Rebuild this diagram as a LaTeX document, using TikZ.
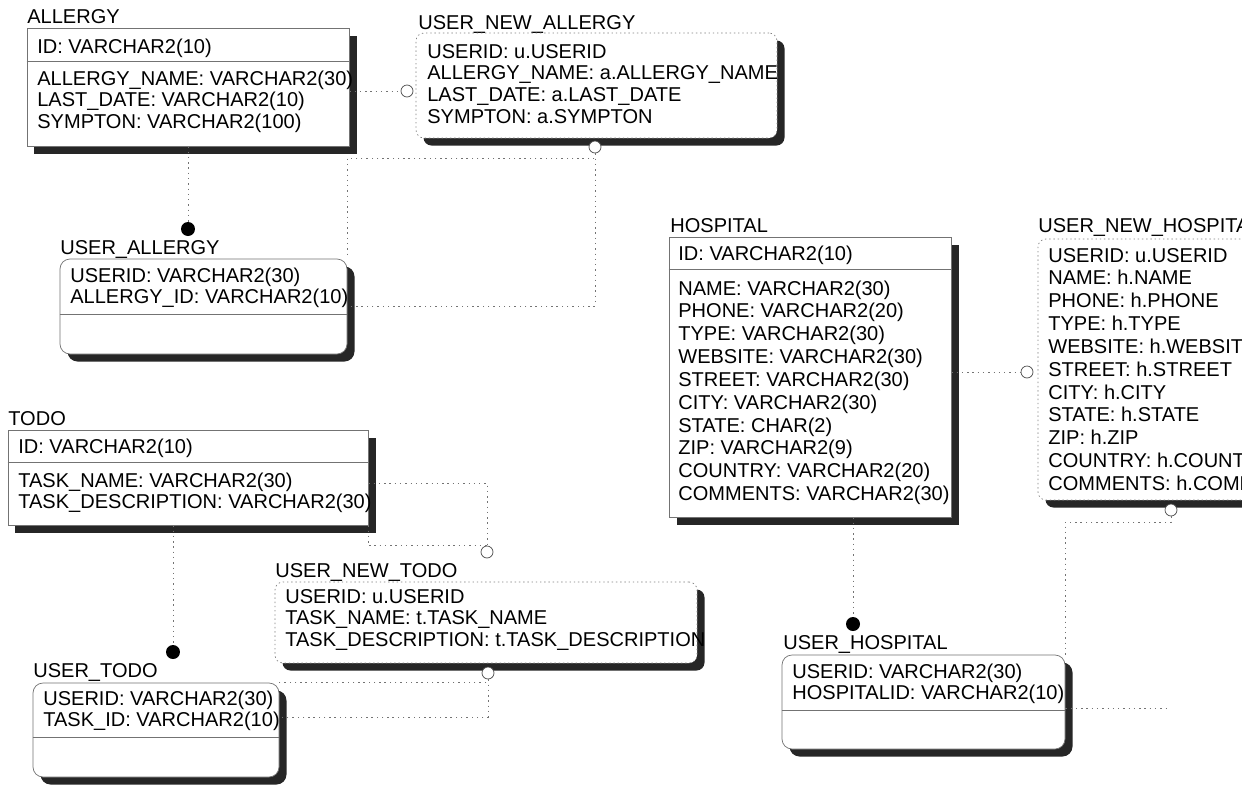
\documentclass[tikz,border=0pt]{standalone}
\usepackage{fontspec}
\setmainfont{Liberation Sans}
\usetikzlibrary{fit,shadows}

\begin{document}
\begin{tikzpicture}[
    x=0.02cm, y=-0.02cm,
    tbl/.style={rectangle, draw=black!55, line width=0.4pt, fill=white, inner sep=0pt,
                drop shadow={shadow xshift=0.15cm, shadow yshift=-0.15cm, fill=black!85, opacity=1}},
    dep/.style={tbl, rounded corners=0.2cm},
    vw/.style={tbl, rounded corners=0.16cm, draw=black!50, dash pattern=on 0.8pt off 1.6pt},
    ttl/.style={anchor=base west, inner sep=0pt, font=\fontsize{11.4}{12.5}\selectfont},
    fld/.style={anchor=base west, inner sep=0pt, align=left, font=\fontsize{11.4}{12.5}\selectfont,
                yshift=-(#1-1)*12.5pt},
    fld/.default=1,
    fldw/.style={anchor=base west, inner sep=0pt, align=left, font=\fontsize{11.4}{13}\selectfont,
                 yshift=-(#1-1)*13pt},
    fldw/.default=1,
    rowline/.style={draw=black!55, line width=0.4pt},
    link/.style={draw=black!55, line width=0.5pt, dash pattern=on 0.8pt off 2.2pt},
    pkdot/.style={circle, fill=black, inner sep=0pt, minimum size=0.28cm},
    nulring/.style={circle, draw=black!70, fill=white, inner sep=0pt, minimum size=0.24cm}
]
\useasboundingbox (0,0) rectangle (1242,785);
\clip (0,0) rectangle (1242,785);
\fill[white] (0,0) rectangle (1242,785);

% ALLERGY
\node[ttl] (allergy-t) at (27,23) {ALLERGY};
\node[tbl, fit={(27,28) (349,146)}] (allergy) {};
\draw[rowline] (allergy.west |- 0,61) -- (allergy.east |- 0,61);
\node[fld] (allergy-pk) at (37,53) {ID: VARCHAR2(10)};
\node[fld=3] (allergy-at) at (37,85) {ALLERGY\_NAME: VARCHAR2(30)\\LAST\_DATE: VARCHAR2(10)\\SYMPTON: VARCHAR2(100)};

% USER_NEW_ALLERGY
\node[ttl] (unallergy-t) at (418,29) {USER\_NEW\_ALLERGY};
\node[vw, fit={(416,33) (777,138)}] (unallergy) {};
\node[fld=4] (unallergy-at) at (427,58) {USERID: u.USERID\\ALLERGY\_NAME: a.ALLERGY\_NAME\\LAST\_DATE: a.LAST\_DATE\\SYMPTON: a.SYMPTON};

% USER_ALLERGY
\node[ttl] (uallergy-t) at (60,254) {USER\_ALLERGY};
\node[dep, fit={(60,259) (347,354)}] (uallergy) {};
\draw[rowline] (uallergy.west |- 0,314) -- (uallergy.east |- 0,314);
\node[fld=2] (uallergy-pk) at (70,282) {USERID: VARCHAR2(30)\\ALLERGY\_ID: VARCHAR2(10)};

% HOSPITAL
\node[ttl] (hospital-t) at (670,232) {HOSPITAL};
\node[tbl, fit={(669,237) (951,517)}] (hospital) {};
\draw[rowline] (hospital.west |- 0,269) -- (hospital.east |- 0,269);
\node[fld] (hospital-pk) at (678,260) {ID: VARCHAR2(10)};
\node[fldw=10] (hospital-at) at (678,295) {NAME: VARCHAR2(30)\\PHONE: VARCHAR2(20)\\TYPE: VARCHAR2(30)\\WEBSITE: VARCHAR2(30)\\STREET: VARCHAR2(30)\\CITY: VARCHAR2(30)\\STATE: CHAR(2)\\ZIP: VARCHAR2(9)\\COUNTRY: VARCHAR2(20)\\COMMENTS: VARCHAR2(30)};

% USER_NEW_HOSPITAL
\node[ttl] (unhospital-t) at (1038,232) {USER\_NEW\_HOSPITAL};
\node[vw, fit={(1038,239) (1320,500)}] (unhospital) {};
\node[fldw=11] (unhospital-at) at (1048,262) {USERID: u.USERID\\NAME: h.NAME\\PHONE: h.PHONE\\TYPE: h.TYPE\\WEBSITE: h.WEBSITE\\STREET: h.STREET\\CITY: h.CITY\\STATE: h.STATE\\ZIP: h.ZIP\\COUNTRY: h.COUNTRY\\COMMENTS: h.COMMENTS};

% USER_HOSPITAL
\node[ttl] (uhospital-t) at (783,649) {USER\_HOSPITAL};
\node[dep, fit={(782,655) (1065,749)}] (uhospital) {};
\draw[rowline] (uhospital.west |- 0,710) -- (uhospital.east |- 0,710);
\node[fld=2] (uhospital-pk) at (792,678) {USERID: VARCHAR2(30)\\HOSPITALID: VARCHAR2(10)};

% TODO
\node[ttl] (todo-t) at (8,425) {TODO};
\node[tbl, fit={(8,430) (368,525)}] (todo) {};
\draw[rowline] (todo.west |- 0,462) -- (todo.east |- 0,462);
\node[fld] (todo-pk) at (18,453) {ID: VARCHAR2(10)};
\node[fld=2] (todo-at) at (18,487) {TASK\_NAME: VARCHAR2(30)\\TASK\_DESCRIPTION: VARCHAR2(30)};

% USER_NEW_TODO
\node[ttl] (untodo-t) at (275,577) {USER\_NEW\_TODO};
\node[vw, fit={(275,582) (697,663)}] (untodo) {};
\node[fld=3] (untodo-at) at (285,603) {USERID: u.USERID\\TASK\_NAME: t.TASK\_NAME\\TASK\_DESCRIPTION: t.TASK\_DESCRIPTION};

% USER_TODO
\node[ttl] (utodo-t) at (33,677) {USER\_TODO};
\node[dep, fit={(33,683) (279,777)}] (utodo) {};
\draw[rowline] (utodo.west |- 0,737) -- (utodo.east |- 0,737);
\node[fld=2] (utodo-pk) at (43,705) {USERID: VARCHAR2(30)\\TASK\_ID: VARCHAR2(10)};

% relationship ends
\node[nulring] (unallergy-in) at (407,91) {};
\node[nulring] (unallergy-out) at (595,147) {};
\node[pkdot] (uallergy-dot) at (188,229) {};
\node[nulring] (unhospital-in) at (1027,372) {};
\node[nulring] (unhospital-out) at (1171,510) {};
\node[pkdot] (uhospital-dot) at (853,624) {};
\node[nulring] (untodo-in) at (487,552) {};
\node[nulring] (untodo-out) at (488,673) {};
\node[pkdot] (utodo-dot) at (173,652) {};
\coordinate (uhospital-end) at (1170,708);

\draw[link] (allergy.east |- unallergy-in) -- (unallergy-in);
\draw[link] (allergy.south -| uallergy-dot) -- (uallergy-dot);
\draw[link] (unallergy-out) -- ++(0,11) -| (uallergy.north east);
\draw[link] (unallergy-out) |- (uallergy.east |- 0,306);
\draw[link] (hospital.east |- unhospital-in) -- (unhospital-in);
\draw[link] (hospital.south -| uhospital-dot) -- (uhospital-dot);
\draw[link] (unhospital-out) -- ++(0,12) -| (uhospital.north east);
\draw[link] (uhospital.east |- uhospital-end) -- (uhospital-end);
\draw[link] (todo.south -| utodo-dot) -- (utodo-dot);
\draw[link] (todo.east |- 0,483) -| (untodo-in);
\draw[link] (todo.south east) |- (untodo-in.north);
\draw[link] (untodo-out) |- (utodo.north east);
\draw[link] (untodo-out) |- (utodo.east |- 0,717);
\end{tikzpicture}
\end{document}
